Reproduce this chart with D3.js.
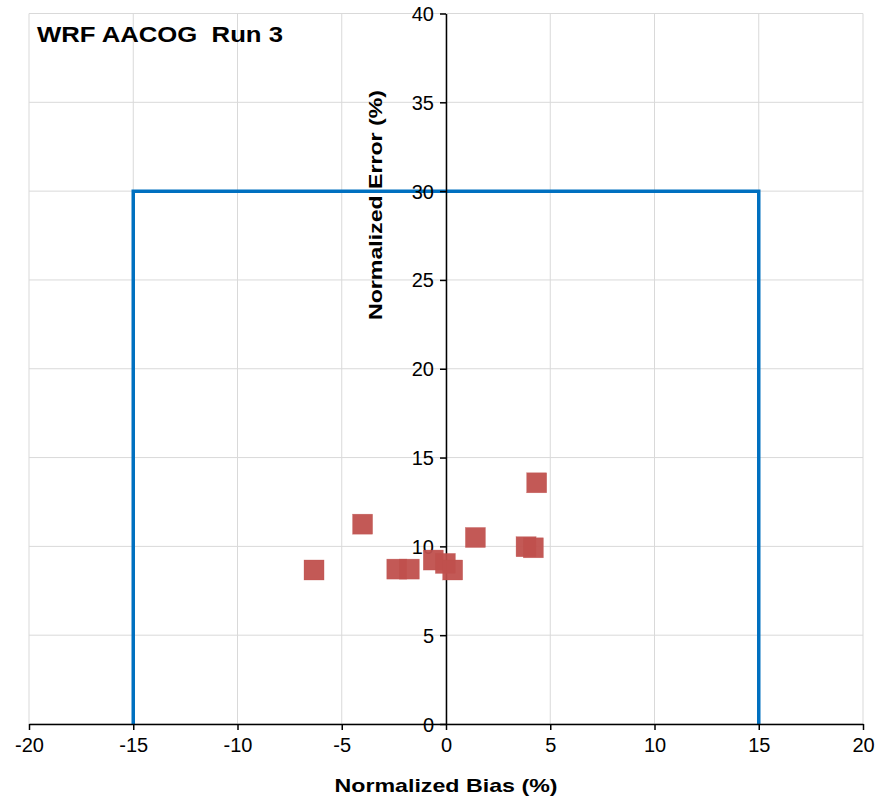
<!DOCTYPE html>
<html><head><meta charset="utf-8">
<script src="https://cdn.jsdelivr.net/npm/d3@7"></script>
<style>body{margin:0;background:#fff}svg{display:block}text{font-family:"Liberation Sans",Arial,sans-serif}</style>
</head><body>
<script>
const biasValues = [-6.33, -4.0, -2.36, -1.76, -0.61, -0.03, 0.32, 1.41, 3.84, 4.19, 4.35];
const errorValues = [8.67, 11.25, 8.72, 8.72, 9.23, 9.04, 8.67, 10.5, 9.98, 9.92, 13.58];
const xTicks = [-20, -15, -10, -5, 0, 5, 10, 15, 20];
const yTicks = [0, 5, 10, 15, 20, 25, 30, 35, 40];
const goalBoxX = [-15, -15, 15, 15];
const goalBoxY = [0, 30, 30, 0];
const title = "WRF AACOG  Run 3";
const xLabel = "Normalized Bias (%)";
const yLabel = "Normalized Error (%)";

const W = 878, H = 802;
const svg = d3.select("body").append("svg").attr("width", W).attr("height", H);
const x = d3.scaleLinear().domain([-20, 20]).range([29, 863]);
const y = d3.scaleLinear().domain([0, 40]).range([724, 13.5]);

// gridlines
svg.append("g").selectAll("line.gx").data(xTicks).join("line")
  .attr("x1", d => x(d)).attr("x2", d => x(d)).attr("y1", y(0)).attr("y2", y(40))
  .attr("stroke", "#d9d9d9").attr("stroke-width", 1);
svg.append("g").selectAll("line.gy").data(yTicks).join("line")
  .attr("x1", x(-20)).attr("x2", x(20)).attr("y1", d => y(d)).attr("y2", d => y(d))
  .attr("stroke", "#d9d9d9").attr("stroke-width", 1);

// goal box
svg.append("path")
  .attr("d", d3.line().x(d => x(d[0])).y(d => y(d[1]))(goalBoxX.map((v, i) => [v, goalBoxY[i]])))
  .attr("fill", "none").attr("stroke", "#0070C0").attr("stroke-width", 3.5);

// axes
const fmt = d => String(d);
const xAxis = svg.append("g").attr("transform", `translate(0,${y(0)})`)
  .call(d3.axisBottom(x).tickValues(xTicks).tickFormat(fmt).tickSize(6).tickPadding(8).tickSizeOuter(0));
const yAxis = svg.append("g").attr("transform", `translate(${x(0)},0)`)
  .call(d3.axisLeft(y).tickValues(yTicks).tickFormat(fmt).tickSize(6).tickPadding(6).tickSizeOuter(0));
[xAxis, yAxis].forEach(g => {
  g.select(".domain").attr("stroke", "#000").attr("stroke-width", 1.5);
  g.selectAll(".tick line").attr("stroke", "#000").attr("stroke-width", 1.5);
  g.selectAll(".tick text").attr("font-size", 20).attr("fill", "#000")
    .attr("font-family", "'Liberation Sans', Arial, sans-serif");
});
yAxis.selectAll(".tick text").attr("dy", "0.35em");

// points
const s = 20;
svg.append("g").selectAll("rect").data(biasValues).join("rect")
  .attr("x", (d) => x(d) - s / 2).attr("y", (d, i) => y(errorValues[i]) - s / 2)
  .attr("width", s).attr("height", s)
  .attr("fill", "#C0504D").attr("fill-opacity", 0.95)
  .attr("stroke", "#c0504d").attr("stroke-opacity", 0.6).attr("stroke-width", 0.5);

// labels
svg.append("text").attr("x", 37).attr("y", 42).attr("font-size", 22).attr("font-weight", "bold")
  .attr("fill", "#000").style("white-space", "pre")
  .attr("textLength", 246).attr("lengthAdjust", "spacingAndGlyphs").text(title);
svg.append("text").attr("x", x(0)).attr("y", 792).attr("text-anchor", "middle")
  .attr("font-size", 19).attr("font-weight", "bold").attr("fill", "#000")
  .attr("textLength", 223).attr("lengthAdjust", "spacingAndGlyphs").text(xLabel);
svg.append("text").attr("transform", `translate(382,205) rotate(-90)`).attr("text-anchor", "middle")
  .attr("font-size", 19).attr("font-weight", "bold").attr("fill", "#000")
  .attr("textLength", 230).attr("lengthAdjust", "spacingAndGlyphs").text(yLabel);
</script>
</body></html>
